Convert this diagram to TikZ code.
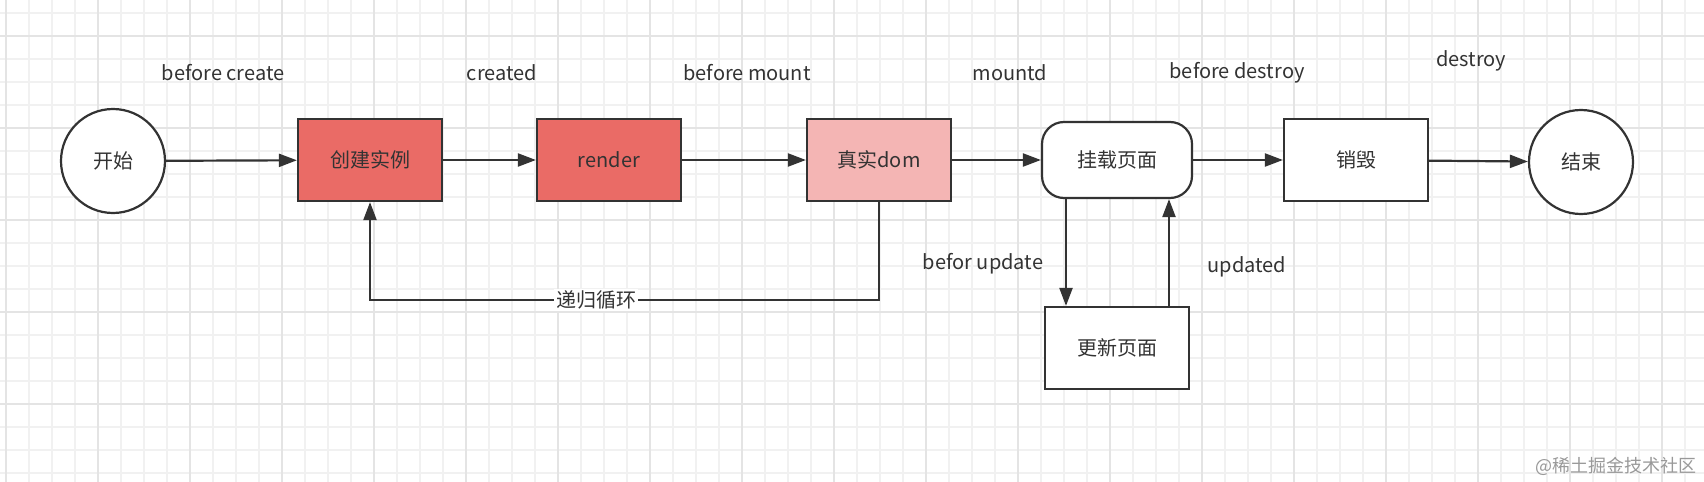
\documentclass[tikz,border=0pt]{standalone}
\usepackage{fontspec}
\setmainfont{Noto Sans CJK SC}
\usetikzlibrary{arrows.meta}
\definecolor{ink}{HTML}{333333}
\definecolor{hotred}{HTML}{EA6B66}
\definecolor{palered}{HTML}{F4B5B4}
\definecolor{gridlo}{HTML}{F1F1F1}
\definecolor{gridhi}{HTML}{E4E4E4}
\begin{document}
\begin{tikzpicture}[x=0.5pt,y={(0pt,-0.5pt)},
  every node/.style={font=\fontsize{10}{12}\selectfont,text=ink},
  box/.style={draw=ink,line width=1.1pt,minimum width=72pt,minimum height=41pt,inner sep=0pt},
  endpoint/.style={draw=ink,line width=1.1pt,circle,minimum size=52pt,inner sep=0pt,fill=white},
  flow/.style={draw=ink,line width=1.1pt,-{Triangle[length=9pt,width=6.5pt]}},
  hook/.style={inner sep=1pt},
  gridline/.style={draw=gridlo,line width=0.6pt},
  gridmajor/.style={draw=gridhi,line width=0.8pt}]
\useasboundingbox[fill=white] (0,0) rectangle (1704,482);
% background grid
\foreach \gx in {6,29,...,1704} \draw[gridline] (\gx,0) -- (\gx,482);
\foreach \gy in {13,36,...,482} \draw[gridline] (0,\gy) -- (1704,\gy);
\foreach \gx in {6,98,...,1704} \draw[gridmajor] (\gx,0) -- (\gx,482);
\foreach \gy in {36,128,...,482} \draw[gridmajor] (0,\gy) -- (1704,\gy);
% main row
\node[endpoint] (start) at (113,161) {开始};
\node[box,fill=hotred] (create) at (370,160) {创建实例};
\node[box,fill=hotred] (render) at (609,160) {render};
\node[box,fill=palered] (realdom) at (879,160) {真实dom};
\node[box,fill=white,minimum width=75pt,minimum height=38pt,rounded corners=11pt] (mount) at (1117,160) {挂载页面};
\node[box,fill=white] (teardown) at (1356,160) {销毁};
\node[endpoint] (finish) at (1581,162) {结束};
\node[box,fill=white] (update) at (1117,348) {更新页面};
% hook names
\node[hook] (bcreate) at (223,73) {before create};
\node[hook] (created) at (502,73) {created};
\node[hook] (bmount) at (747,73) {before mount};
\node[hook] (mounted) at (1010,73) {mountd};
\node[hook] (bdestroy) at (1237,73) {before destroy};
\node[hook] (destroyed) at (1471,61) {destroy};
\node[hook] (bupdate) at (983,264) {befor update};
\node[hook] (updated) at (1247,267) {updated};
% connectors
\draw[flow] (start) -- (create);
\draw[flow] (create) -- (render);
\draw[flow] (render) -- (realdom);
\draw[flow] (realdom) -- (mount);
\draw[flow] (mount) -- (teardown);
\draw[flow] (teardown) -- (finish);
\draw[flow] ([xshift=-25.5pt]mount.south) -- ([xshift=-25.5pt]update.north);
\draw[flow] ([xshift=26pt]update.north) -- ([xshift=26pt]mount.south);
\coordinate (loopR) at (879,300);
\coordinate (loopL) at (370,300);
\draw[flow] (realdom.south) -- (loopR) -- node[pos=0.556,fill=white,inner sep=1pt] {递归循环} (loopL) -- (create.south);
% watermark
\node[text=black!40,anchor=east,font=\fontsize{9}{11}\selectfont,inner sep=0pt] (mark) at (1697,466) {@稀土掘金技术社区};
\end{tikzpicture}
\end{document}
